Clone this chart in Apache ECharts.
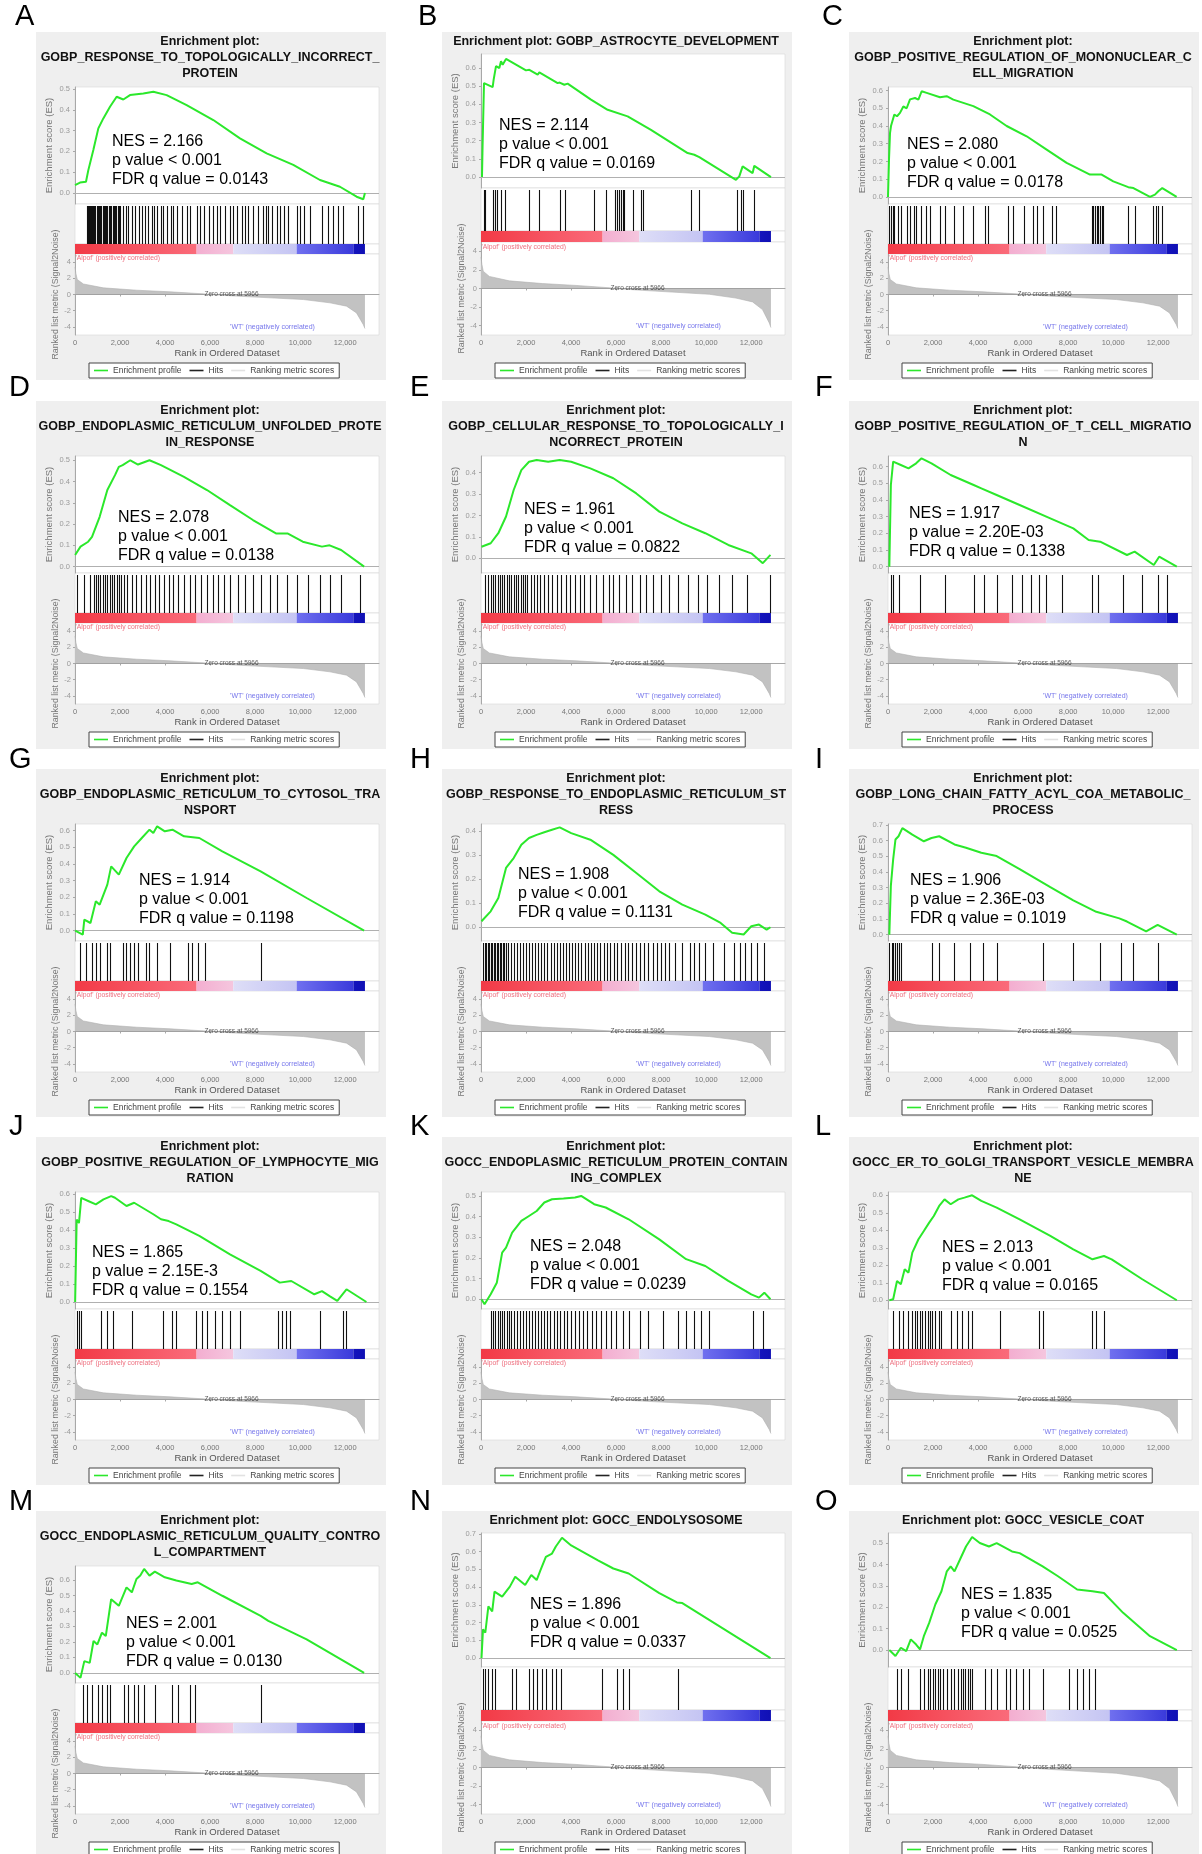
<!DOCTYPE html>
<html><head><meta charset="utf-8">
<script src="https://cdn.jsdelivr.net/npm/echarts@6/dist/echarts.min.js"></script>
<style>html,body{margin:0;padding:0;background:#fff}#c{width:1202px;height:1854px}</style>
</head><body><div id="c"></div>
<script>
// ---------------- DATA ----------------
const LETTERS = ['A','B','C','D','E','F','G','H','I','J','K','L','M','N','O'];
const TITLES = [
 ['Enrichment plot:','GOBP_RESPONSE_TO_TOPOLOGICALLY_INCORRECT_','PROTEIN'],
 ['Enrichment plot: GOBP_ASTROCYTE_DEVELOPMENT'],
 ['Enrichment plot:','GOBP_POSITIVE_REGULATION_OF_MONONUCLEAR_C','ELL_MIGRATION'],
 ['Enrichment plot:','GOBP_ENDOPLASMIC_RETICULUM_UNFOLDED_PROTE','IN_RESPONSE'],
 ['Enrichment plot:','GOBP_CELLULAR_RESPONSE_TO_TOPOLOGICALLY_I','NCORRECT_PROTEIN'],
 ['Enrichment plot:','GOBP_POSITIVE_REGULATION_OF_T_CELL_MIGRATIO','N'],
 ['Enrichment plot:','GOBP_ENDOPLASMIC_RETICULUM_TO_CYTOSOL_TRA','NSPORT'],
 ['Enrichment plot:','GOBP_RESPONSE_TO_ENDOPLASMIC_RETICULUM_ST','RESS'],
 ['Enrichment plot:','GOBP_LONG_CHAIN_FATTY_ACYL_COA_METABOLIC_','PROCESS'],
 ['Enrichment plot:','GOBP_POSITIVE_REGULATION_OF_LYMPHOCYTE_MIG','RATION'],
 ['Enrichment plot:','GOCC_ENDOPLASMIC_RETICULUM_PROTEIN_CONTAIN','ING_COMPLEX'],
 ['Enrichment plot:','GOCC_ER_TO_GOLGI_TRANSPORT_VESICLE_MEMBRA','NE'],
 ['Enrichment plot:','GOCC_ENDOPLASMIC_RETICULUM_QUALITY_CONTRO','L_COMPARTMENT'],
 ['Enrichment plot: GOCC_ENDOLYSOSOME'],
 ['Enrichment plot: GOCC_VESICLE_COAT']
];
const NES  = ['2.166','2.114','2.080','2.078','1.961','1.917','1.914','1.908','1.906','1.865','2.048','2.013','2.001','1.896','1.835'];
const PVAL = ['< 0.001','< 0.001','< 0.001','< 0.001','< 0.001','= 2.20E-03','< 0.001','< 0.001','= 2.36E-03','= 2.15E-3','< 0.001','< 0.001','< 0.001','< 0.001','< 0.001'];
const FDR  = ['0.0143','0.0169','0.0178','0.0138','0.0822','0.1338','0.1198','0.1131','0.1019','0.1554','0.0239','0.0165','0.0130','0.0337','0.0525'];

const X_MAX = 13500;
const X_TICKS = [0,2000,4000,6000,8000,10000,12000];
const RANK_TICKS = [-4,-2,0,2,4];
const ZERO_CROSS = 5966;
const DATA_END = 12876;
const BAND_EDGES = [[0,5400],[5400,7030],[7030,9844],[9844,12361],[12361,12876]];
const RANKED = [[0,3.4],[40,2.6],[100,1.85],[370,1.3],[1260,0.82],[2740,0.53],[4220,0.33],[5700,0.08],[5966,0],[7180,-0.2],[8660,-0.41],[10140,-0.62],[11320,-1.03],[12060,-1.44],[12500,-2.27],[12800,-3.7],[12876,-4.2]];

// ES axis ranges [min, max] and highest labelled tick
const ES_RANGE = [[-0.053,0.51],[-0.06,0.677],[-0.04,0.62],[-0.03,0.52],[-0.069,0.478],[-0.038,0.664],[-0.062,0.64],[-0.057,0.428],[-0.04,0.705],[-0.039,0.613],[-0.047,0.519],[-0.05,0.619],[-0.065,0.69],[-0.05,0.705],[-0.079,0.547]];
const ES_TICK_TOP = [0.5,0.6,0.6,0.5,0.4,0.6,0.6,0.4,0.7,0.6,0.5,0.6,0.6,0.7,0.5];

const ES_A = [[0,0.038],[222,0.05],[488,0.054],[592,0.11],[814,0.207],[1036,0.311],[1258,0.359],[1554,0.415],[1850,0.463],[2146,0.45],[2442,0.471],[3034,0.479],[3478,0.487],[4070,0.471],[4958,0.423],[6142,0.351],[7326,0.263],[8510,0.191],[9694,0.135],[10878,0.0625],[11766,0.03],[12506,-0.018],[12802,-0.03],[12876,0.0]];
const ES_B = [[44,0],[70,0.17],[133,0.517],[518,0.495],[562,0.536],[666,0.61],[814,0.6],[888,0.637],[962,0.618],[1110,0.65],[1998,0.587],[2146,0.59],[2516,0.563],[2590,0.576],[3404,0.517],[3493,0.52],[3700,0.508],[3848,0.514],[4884,0.426],[5624,0.37],[6512,0.334],[7548,0.26],[9176,0.132],[9472,0.123],[9694,0.11],[11322,-0.015],[11470,0.004],[11618,0.059],[12062,0.022],[12136,0.062],[12876,0]];
const ES_C = [[0,0],[44,0.21],[89,0.36],[133,0.4],[281,0.465],[400,0.455],[533,0.474],[681,0.51],[829,0.5],[977,0.55],[1199,0.558],[1350,0.549],[1495,0.596],[1717,0.587],[1791,0.596],[2309,0.562],[2605,0.568],[2901,0.549],[3789,0.512],[4529,0.465],[5269,0.4],[6157,0.342],[7045,0.267],[7933,0.192],[8969,0.126],[9487,0.126],[10005,0.088],[10671,0.055],[10900,0.05],[11633,0],[11855,0.013],[12003,0.032],[12080,0.023],[12180,0.05],[12817,0]];
const ES_D = [[6,0.055],[244,0.094],[585,0.117],[755,0.14],[1095,0.234],[1436,0.36],[1776,0.43],[1946,0.469],[2116,0.477],[2457,0.5],[2797,0.48],[3308,0.5],[3818,0.477],[4840,0.422],[5861,0.36],[6882,0.289],[7903,0.219],[8924,0.156],[9435,0.156],[10116,0.117],[10967,0.094],[11307,0.1],[11818,0.078],[12839,0]];
const ES_E = [[22,0.054],[430,0.07],[770,0.117],[1111,0.195],[1451,0.319],[1791,0.412],[2132,0.451],[2472,0.459],[2983,0.451],[3494,0.459],[4004,0.451],[4855,0.42],[5876,0.374],[6897,0.303],[7918,0.218],[8940,0.163],[9961,0.117],[10982,0.062],[12003,0.023],[12514,-0.023],[12854,0.016]];
const ES_F = [[59,0],[127,0.49],[229,0.63],[570,0.61],[910,0.59],[1250,0.62],[1489,0.65],[1932,0.62],[2783,0.55],[3804,0.49],[4144,0.47],[4825,0.43],[5846,0.37],[7208,0.29],[8229,0.23],[8910,0.16],[9421,0.15],[10612,0.07],[10953,0.09],[11804,0.01],[12042,0.06],[12825,0]];
const ES_G = [[6,0],[346,-0.024],[414,0.066],[687,0.046],[925,0.176],[1095,0.156],[1436,0.276],[1606,0.386],[1946,0.336],[2287,0.436],[2627,0.506],[2967,0.556],[3308,0.606],[3478,0.586],[3648,0.626],[3989,0.596],[4329,0.606],[4840,0.566],[5521,0.556],[6542,0.476],[8244,0.356],[10286,0.196],[12839,0]];
const ES_H = [[22,0.025],[430,0.066],[770,0.121],[1111,0.246],[1451,0.287],[1791,0.342],[2132,0.37],[2472,0.383],[2812,0.394],[3153,0.404],[3494,0.414],[4004,0.39],[4855,0.363],[5876,0.3],[6897,0.225],[7918,0.149],[8940,0.094],[9961,0.052],[10642,0.018],[11152,-0.023],[11663,-0.03],[12003,0.004],[12344,0.011],[12684,-0.01],[12854,0]];
const ES_I = [[59,0],[127,0.313],[229,0.48],[331,0.606],[468,0.627],[638,0.679],[1080,0.637],[1591,0.595],[1932,0.616],[2272,0.627],[2953,0.575],[3463,0.554],[4144,0.522],[4825,0.501],[5846,0.418],[7208,0.303],[8229,0.219],[9250,0.146],[10272,0.104],[10612,0.084],[11463,0.021],[11974,0.063],[12825,0]];
const ES_J = [[6,0],[74,0.46],[176,0.44],[278,0.58],[585,0.563],[925,0.544],[1265,0.572],[1606,0.59],[1776,0.581],[2287,0.535],[2627,0.553],[3478,0.489],[3818,0.461],[4159,0.451],[4499,0.433],[5521,0.368],[6882,0.266],[8244,0.173],[9095,0.108],[9605,0.117],[10627,0.043],[10967,0.061],[11307,0.033],[11648,0.006],[12056,0.071],[12941,0]];
const ES_K = [[22,0],[157,-0.024],[430,0.024],[702,0.08],[940,0.226],[1111,0.25],[1383,0.323],[1791,0.379],[2132,0.403],[2472,0.427],[2812,0.468],[3153,0.484],[3664,0.487],[4174,0.492],[4447,0.5],[5025,0.46],[5536,0.444],[6557,0.387],[7918,0.29],[9110,0.194],[9961,0.161],[10982,0.089],[12003,0.024],[12344,0.008],[12582,0.032],[12854,0]];
const ES_L = [[59,0],[229,0.006],[400,0.11],[570,0.091],[740,0.177],[910,0.158],[1080,0.272],[1353,0.349],[1591,0.396],[1829,0.444],[2034,0.482],[2272,0.539],[2510,0.577],[2783,0.549],[3123,0.577],[3395,0.587],[3736,0.6],[4144,0.568],[4825,0.53],[5846,0.463],[7208,0.368],[8229,0.291],[9080,0.234],[9591,0.253],[9932,0.234],[11293,0.12],[12825,0]];
const ES_M = [[6,0],[244,-0.032],[414,0.076],[653,0.065],[823,0.206],[993,0.184],[1197,0.26],[1367,0.238],[1606,0.476],[1946,0.433],[2287,0.552],[2525,0.52],[2729,0.606],[2899,0.628],[3070,0.671],[3308,0.628],[3546,0.654],[3989,0.617],[4499,0.596],[5180,0.574],[5452,0.585],[6542,0.498],[8244,0.368],[8584,0.336],[10286,0.217],[12839,0]];
const ES_N = [[22,0],[89,0.162],[191,0.143],[327,0.291],[498,0.264],[600,0.375],[940,0.347],[1281,0.403],[1519,0.459],[1961,0.412],[2234,0.468],[2472,0.44],[2642,0.496],[2880,0.57],[3153,0.589],[3323,0.629],[3596,0.678],[4004,0.635],[5195,0.551],[5876,0.505],[6557,0.477],[7918,0.366],[8701,0.314],[8940,0.31],[12854,0]];
const ES_O = [[59,0],[331,-0.028],[570,0.011],[808,-0.005],[1012,0.05],[1250,0.026],[1421,0.003],[1591,0.065],[1829,0.127],[2101,0.213],[2374,0.275],[2612,0.368],[2783,0.391],[2953,0.368],[3191,0.422],[3463,0.484],[3736,0.528],[4076,0.5],[4484,0.484],[4825,0.5],[5506,0.461],[5846,0.453],[6868,0.391],[7549,0.345],[8400,0.283],[9080,0.275],[9591,0.267],[10442,0.174],[11634,0.065],[12825,0]];

const HITS_A = [518,562,607,666,710,755,814,858,903,962,1006,1066,1110,1169,1228,1273,1332,1376,1436,1495,1554,1613,1672,1732,1776,1835,1894,1939,1998,2146,2264,2368,2516,2664,2856,2960,3108,3256,3404,3508,3626,3804,3922,4070,4248,4366,4514,4736,4958,5106,5402,5550,5728,5964,6142,6290,6438,6660,6882,7030,7208,7400,7548,7696,7918,8140,8362,8480,8584,8732,8954,9102,9280,9472,9842,9990,10168,10434,10952,11248,11470,11692,11914,12580,12802];
const HITS_B = [118,178,518,622,696,888,1066,2146,2560,3493,3730,5032,5550,5950,6039,6142,6216,6290,6364,6734,7104,7178,9324,9664,11366,11544,11618,12107];
const HITS_C = [59,118,207,281,459,577,829,977,1169,1243,1451,1688,1865,2309,2531,2930,3345,3789,4307,4425,5343,5565,6038,6453,6601,6867,7267,7459,9043,9117,9191,9265,9339,9413,9487,9561,10641,10967,11751,11899,12003,12151];
const HITS_D = [74,414,687,823,925,1027,1129,1231,1333,1436,1538,1640,1742,1844,1946,2048,2184,2321,2525,2729,2933,3138,3342,3546,3750,3955,4159,4363,4567,4840,5112,5350,5588,5861,6133,6371,6610,6882,7222,7563,7903,8244,8652,8992,9435,9878,10354,10899,11307,11818,12669];
const HITS_E = [157,293,430,532,634,736,838,940,1042,1144,1247,1349,1451,1553,1655,1757,1859,1961,2064,2200,2336,2472,2642,2812,2983,3153,3357,3561,3766,3970,4174,4378,4582,4855,5127,5399,5672,5876,6148,6420,6727,7067,7340,7646,7986,8327,8769,9212,9620,10029,10573,11152,11833,12854];
const HITS_F = [127,229,468,1421,2510,3804,4246,4825,5506,5948,6357,6697,7038,7719,9080,9319,10442,11293,11974,12383];
const HITS_G = [244,482,755,925,1095,1436,1538,2116,2287,2457,2627,2797,3138,3308,3648,4227,5010,5180,5452,5793,8244];
const HITS_H = [89,160,225,290,361,430,500,560,630,700,770,840,905,980,1040,1110,1180,1315,1450,1590,1725,1860,2000,2130,2270,2410,2540,2680,2815,2950,3090,3230,3360,3500,3640,3770,3910,4050,4180,4320,4460,4600,4740,4880,5020,5160,5300,5450,5600,5750,5900,6050,6220,6380,6550,6720,6900,7080,7250,7430,7620,7800,7980,8160,8350,8598,8940,9280,9450,9690,9961,10302,10812,11255,11493,11731,12003,12276,12548];
const HITS_I = [59,161,229,331,400,468,570,1932,2272,2953,3634,4212,4825,6868,8229,9421,10340,10885,11974];
const HITS_J = [74,176,278,1163,1436,1708,2525,3887,4329,4465,5384,5623,5861,6201,6542,6882,7325,9027,9197,9367,9538,10899,11920,12056];
const HITS_K = [430,532,634,736,838,940,1042,1144,1247,1349,1451,1587,1723,1859,1996,2132,2268,2404,2540,2676,2812,2948,3085,3221,3357,3494,3664,3834,4004,4174,4344,4514,4719,4923,5127,5331,5536,5774,6012,6285,6557,7067,7408,8088,8769,9110,9450,9791,10131,12071,12514];
const HITS_L = [229,468,672,910,1080,1182,1285,1421,1523,1625,1761,1863,1965,2101,2272,2374,2783,3055,3293,3531,3736,4995,6697,6868,9080,9250,9591];
const HITS_M = [346,517,755,1027,1197,1436,1538,2184,2355,2627,2797,3070,3546,4329,4567,5112,5350,8244];
const HITS_N = [89,191,327,498,600,1383,1553,2132,2302,2472,2710,2880,3153,3323,3561,5365,6046,6285,6557,8769];
const HITS_O = [400,570,910,1421,1591,1761,1863,1999,2101,2204,2306,2442,2612,2783,2953,3123,3225,3327,3429,3531,3634,3736,4314,4586,4825,5233,5438,5676,6016,6255,6868,8059,8400,8638,8910,9182];

const ES_LIST = [ES_A,ES_B,ES_C,ES_D,ES_E,ES_F,ES_G,ES_H,ES_I,ES_J,ES_K,ES_L,ES_M,ES_N,ES_O];
const HITS_LIST = [HITS_A,HITS_B,HITS_C,HITS_D,HITS_E,HITS_F,HITS_G,HITS_H,HITS_I,HITS_J,HITS_K,HITS_L,HITS_M,HITS_N,HITS_O];

// ---------------- LAYOUT / STYLE ----------------
const FONT = '"Liberation Sans", Arial, Helvetica, sans-serif';
const GREEN = '#2be82b';
const COL_X = [36,442,849];
const ROW_Y = [32,401,769,1137,1511];
const LETTER_X = [[15,418,822],[9,410,815],[9,410,815],[9,410,815],[9,410,815]];
const LETTER_BASE = [31,402,774,1141,1516];
const PW = 350, PH = 348, GX = 39, GW = 304;
const L3 = {es:[55,172], hits:[172,212], band:[212,222], rank:[222,303]};
const L1 = {es:[22,156], hits:[156,199], band:[199,210], rank:[210,303]};
const NES_POS = [[76,110],[57,94],[58,113],[82,117],[82,109],[60,113],[103,112],[76,106],[61,112],[56,116],[88,110],[93,111],[90,113],[88,94],[112,84]];
const BAND_COLORS = [['#f23a46','#fa6b7a'],['#f3aed0','#f5c6de'],['#dedef7','#c4c4f3'],['#7070ef','#3a3adb'],['#1414bd','#1010b4']];

function hitItem(params, api){
  const cs = params.coordSys;
  const x = Math.round(api.coord([api.value(0), 0])[0]) + 0.5;
  return {type:'line', shape:{x1:x, y1:cs.y + 2, x2:x, y2:cs.y + cs.height}, style:{stroke:'#111', lineWidth:1.1}};
}
function bandItem(params, api){
  const a = api.coord([api.value(0), 0]), b = api.coord([api.value(1), 1]);
  const c = BAND_COLORS[params.dataIndex];
  return {type:'rect', shape:{x:a[0], y:b[1], width:b[0]-a[0], height:a[1]-b[1]},
    style:{fill:new echarts.graphic.LinearGradient(0,0,1,0,[{offset:0,color:c[0]},{offset:1,color:c[1]}])}};
}

const grid=[], xAxis=[], yAxis=[], series=[], graphic=[], legend=[];
const gray = '#a8a8a8';

for (let i=0;i<15;i++){
  const row = Math.floor(i/3), col = i%3;
  const px = COL_X[col], py = ROW_Y[row];
  const L = TITLES[i].length === 1 ? L1 : L3;
  graphic.push({type:'rect', z:-100, silent:true, shape:{x:px, y:py, width:PW, height:PH}, style:{fill:'#efefef'}});
  graphic.push({type:'text', x:LETTER_X[row][col], y:LETTER_BASE[row], style:{text:LETTERS[i], fontSize:29, fontFamily:FONT, fill:'#000', textVerticalAlign:'bottom'}});
  TITLES[i].forEach((t,k)=>graphic.push({type:'text', x:px+174, y:py+10+16*k,
    style:{text:t, fontSize:12.5, fontWeight:'bold', fontFamily:FONT, fill:'#111', textAlign:'center', textVerticalAlign:'middle'}}));
  const [nx, ny] = NES_POS[i];
  ['NES = '+NES[i], 'p value '+PVAL[i], 'FDR q value = '+FDR[i]].forEach((t,k)=>graphic.push({type:'text', z:50,
    x:px+nx, y:py+ny+18.8*k, style:{text:t, fontSize:16, fontFamily:FONT, fill:'#000', textVerticalAlign:'middle'}}));

  const g0 = grid.length;
  const mk = r => ({left:px+GX, top:py+r[0], width:GW, height:r[1]-r[0], show:true, backgroundColor:'#fff', borderColor:'#d6d6d6', borderWidth:0.6});
  grid.push(mk(L.es), mk(L.hits), mk(L.band), mk(L.rank));

  const esTicks = [];
  for (let k=0; k<=Math.round(ES_TICK_TOP[i]*10); k++) esTicks.push(k/10);

  for (let k=0;k<3;k++) xAxis.push({gridIndex:g0+k, type:'value', min:0, max:X_MAX, show:false});
  xAxis.push({gridIndex:g0+3, type:'value', min:0, max:X_MAX,
    name:'Rank in Ordered Dataset', nameLocation:'middle', nameGap:12,
    nameTextStyle:{fontSize:9.5, color:'#555', fontFamily:FONT},
    axisLine:{show:true, lineStyle:{color:gray}},
    axisTick:{show:true, length:2, customValues:X_TICKS, lineStyle:{color:gray}},
    axisLabel:{customValues:X_TICKS, fontSize:7.5, color:'#777', margin:4, fontFamily:FONT, formatter:v=>Number(v).toLocaleString('en-US')},
    splitLine:{show:false}});
  yAxis.push({gridIndex:g0, type:'value', min:ES_RANGE[i][0], max:ES_RANGE[i][1],
    name:'Enrichment score (ES)', nameLocation:'middle', nameGap:21,
    nameTextStyle:{fontSize:9.5, color:'#777', fontFamily:FONT},
    axisLine:{show:true, lineStyle:{color:gray}},
    axisTick:{show:true, length:2, customValues:esTicks, lineStyle:{color:gray}},
    axisLabel:{customValues:esTicks, fontSize:7.5, color:'#9a9a9a', margin:5, fontFamily:FONT, formatter:v=>Number(v).toFixed(1)},
    splitLine:{show:false}});
  yAxis.push({gridIndex:g0+1, type:'value', min:0, max:1, show:false});
  yAxis.push({gridIndex:g0+2, type:'value', min:0, max:1, show:false});
  yAxis.push({gridIndex:g0+3, type:'value', min:-5, max:5,
    name:'Ranked list metric (Signal2Noise)', nameLocation:'middle', nameGap:14,
    nameTextStyle:{fontSize:8.8, color:'#777', fontFamily:FONT},
    axisLine:{show:true, lineStyle:{color:gray}},
    axisTick:{show:true, length:2, customValues:RANK_TICKS, lineStyle:{color:gray}},
    axisLabel:{customValues:RANK_TICKS, fontSize:7.5, color:'#9a9a9a', margin:4, fontFamily:FONT},
    splitLine:{show:false}});

  series.push({type:'line', name:'Enrichment profile', xAxisIndex:g0, yAxisIndex:g0, data:ES_LIST[i],
    symbol:'none', color:GREEN, lineStyle:{color:GREEN, width:2}, silent:true, z:5,
    markLine:{silent:true, symbol:'none', label:{show:false}, lineStyle:{color:'#b0b0b0', width:1, type:'solid'}, data:[{yAxis:0}]}});
  series.push({type:'custom', name:'Hits', xAxisIndex:g0+1, yAxisIndex:g0+1, renderItem:hitItem,
    data:HITS_LIST[i].map(v=>[v,0]), encode:{x:0, y:1}, color:'#000', silent:true});
  series.push({type:'custom', name:'band', xAxisIndex:g0+2, yAxisIndex:g0+2, renderItem:bandItem,
    data:BAND_EDGES.map(b=>[b[0], b[1]]), encode:{x:[0,1]}, silent:true});
  series.push({type:'line', name:'Ranking metric scores', xAxisIndex:g0+3, yAxisIndex:g0+3, data:RANKED,
    symbol:'none', color:'#bdbdbd', lineStyle:{color:'#b0b0b0', width:0.6}, areaStyle:{color:'#c2c2c2', opacity:1}, silent:true,
    markLine:{silent:true, symbol:'none', label:{show:false}, lineStyle:{color:'#9c9c9c', width:0.8, type:'solid'}, data:[[{coord:[0,0]},{coord:[DATA_END,0]}]]}});
  series.push({type:'scatter', xAxisIndex:g0+3, yAxisIndex:g0+3, symbolSize:0, silent:true, z:10,
    data:[
      {value:[6950,0], label:{show:true, position:'inside', formatter:'Zero cross at '+ZERO_CROSS, fontSize:6.5, color:'#333', fontFamily:FONT}},
      {value:[20,4.45], label:{show:true, position:'right', distance:0, formatter:"'Alpof' (positively correlated)", fontSize:6.8, color:'#ea4a5e', fontFamily:FONT}},
      {value:[8770,-4.05], label:{show:true, position:'inside', formatter:"'WT' (negatively correlated)", fontSize:7, color:'#5252e6', fontFamily:FONT}}
    ]});

  legend.push({left:px+53, top:py+331, orient:'horizontal', selectedMode:false, padding:[3,5], itemGap:8,
    itemWidth:14, itemHeight:1.6, borderColor:'#444', borderWidth:1, backgroundColor:'#fff', borderRadius:0,
    textStyle:{fontSize:8.5, color:'#444', fontFamily:FONT},
    data:[{name:'Enrichment profile', icon:'rect', itemStyle:{color:GREEN}},
          {name:'Hits', icon:'rect', itemStyle:{color:'#222'}},
          {name:'Ranking metric scores', icon:'rect', itemStyle:{color:'#e2e2e2'}}]});
}

const chart = echarts.init(document.getElementById('c'), null, {renderer:'canvas'});
chart.setOption({animation:false, backgroundColor:'#fff', textStyle:{fontFamily:FONT},
  grid, xAxis, yAxis, series, graphic, legend});
</script></body></html>
